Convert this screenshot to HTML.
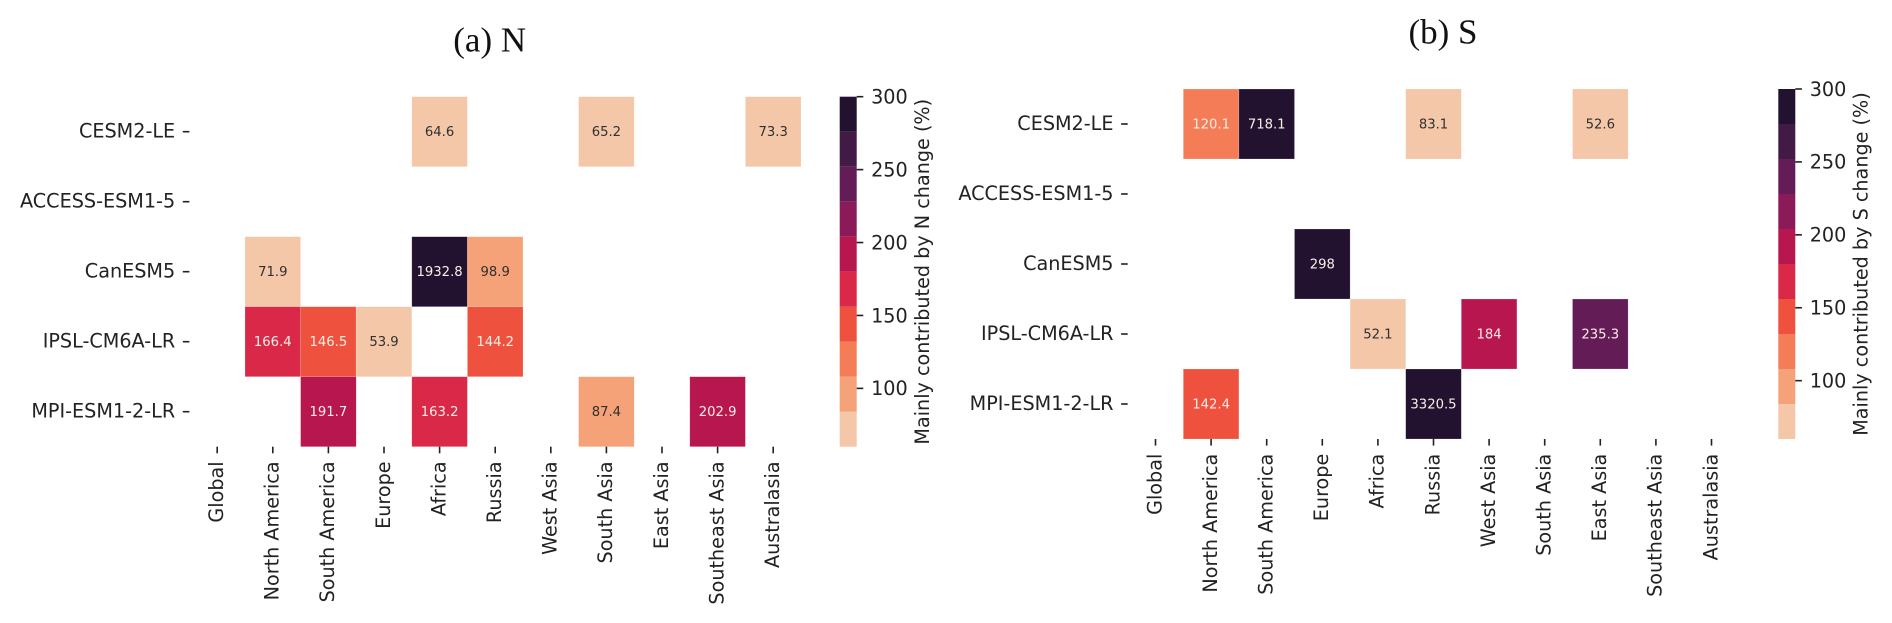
<!DOCTYPE html>
<html lang="en">
<head>
<meta charset="utf-8">
<title>Mainly contributed by N and S change heatmaps</title>
<style>
  html, body { margin: 0; padding: 0; background: #fff; width: 1892px; height: 623px; overflow: hidden; }
  svg { display: block; filter: blur(0.35px); }
  text { font-family: "DejaVu Sans", "Liberation Sans", sans-serif; fill: #222; }
  .panel-title { font-family: "Liberation Serif", serif; font-size: 35px; fill: #111; text-anchor: middle; }
  .tick-label { font-size: 19.2px; }
  .cell-label { font-size: 13.2px; text-anchor: middle; }
  .tick { stroke: #222; stroke-width: 1.6; }
</style>
</head>
<body>
<svg id="figure" xmlns="http://www.w3.org/2000/svg" width="1892" height="623" viewBox="0 0 1892 623"></svg>
<script>
const regions = ["Global", "North America", "South America", "Europe", "Africa", "Russia", "West Asia", "South Asia", "East Asia", "Southeast Asia", "Australasia"];
const models = ["CESM2-LE", "ACCESS-ESM1-5", "CanESM5", "IPSL-CM6A-LR", "MPI-ESM1-2-LR"];

const nCesm = [null, null, null, null, 64.6, null, null, 65.2, null, null, 73.3];
const nAccess = [null, null, null, null, null, null, null, null, null, null, null];
const nCan = [null, 71.9, null, null, 1932.8, 98.9, null, null, null, null, null];
const nIpsl = [null, 166.4, 146.5, 53.9, null, 144.2, null, null, null, null, null];
const nMpi = [null, null, 191.7, null, 163.2, null, null, 87.4, null, 202.9, null];

const sCesm = [null, 120.1, 718.1, null, null, 83.1, null, null, 52.6, null, null];
const sAccess = [null, null, null, null, null, null, null, null, null, null, null];
const sCan = [null, null, null, 298, null, null, null, null, null, null, null];
const sIpsl = [null, null, null, null, 52.1, null, 184, null, 235.3, null, null];
const sMpi = [null, 142.4, null, null, null, 3320.5, null, null, null, null, null];

const colorbarTicks = [100, 150, 200, 250, 300];
const bandColors = ["#f5c7a9", "#f6a279", "#f47d57", "#ee523f", "#da2849", "#b7164f", "#8a1a58", "#641c56", "#421a46", "#22112f"];
const colorMin = 60;
const colorMax = 300;

const SVG_NS = "http://www.w3.org/2000/svg";
const figure = document.getElementById("figure");

const cellWidth = 55.6;
const cellHeight = 70;
const barWidth = 17;
const tickLength = 6.6;

function make(parent, tag, attrs, content) {
  const el = document.createElementNS(SVG_NS, tag);
  for (const key in attrs) el.setAttribute(key, attrs[key]);
  if (content !== undefined) el.textContent = content;
  parent.appendChild(el);
  return el;
}

function slug(s) {
  return String(s).toLowerCase().replace(/[^a-z0-9]+/g, "-");
}

function bandIndex(v) {
  const bandSize = (colorMax - colorMin) / bandColors.length;
  const i = Math.floor((v - colorMin) / bandSize);
  return Math.max(0, Math.min(bandColors.length - 1, i));
}

function drawPanel(p) {
  const xScale = i => p.left + i * cellWidth;
  const yScale = j => p.top + j * cellHeight;
  const plotBottom = yScale(models.length);
  const plotHeight = plotBottom - p.top;
  const barScale = v => p.top + (colorMax - v) / (colorMax - colorMin) * plotHeight;

  const group = make(figure, "g", {});
  
  

  const title = make(group, "text", { class: "panel-title", x: p.titleX, y: p.titleY }, p.title);
  
  

  p.rows.forEach((row, j) => {
    row.forEach((v, i) => {
      if (v === null) return;
      const band = bandIndex(v);
      const cell = make(group, "rect", {
        x: xScale(i), y: yScale(j), width: cellWidth, height: cellHeight,
        fill: bandColors[band], stroke: "#ffffff", "stroke-opacity": 0.3, "stroke-width": 0.6
      });
      
      
      const label = make(group, "text", {
        class: "cell-label",
        x: xScale(i + 0.5), y: yScale(j + 0.5) + 4.4,
        style: "fill:" + (band >= 2 ? "#fbeee6" : "#303030")
      }, String(v));
      
      
    });
  });

  models.forEach((m, j) => {
    const cy = yScale(j + 0.5);
    const tick = make(group, "line", { class: "tick", x1: p.left - tickLength, x2: p.left, y1: cy, y2: cy });
    
    
    const label = make(group, "text", { class: "tick-label", x: p.left - 14.2, y: cy + 5.8, "text-anchor": "end" }, m);
    
    
  });

  regions.forEach((r, i) => {
    const cx = xScale(i + 0.5);
    const tick = make(group, "line", { class: "tick", x1: cx, x2: cx, y1: plotBottom, y2: plotBottom + tickLength });
    
    
    const ly = plotBottom + 14.7;
    const lx = cx + 5.8;
    const label = make(group, "text", {
      class: "tick-label", x: lx, y: ly, "text-anchor": "end",
      transform: "rotate(-90 " + lx + " " + ly + ")"
    }, r);
    
    
  });

  bandColors.forEach((c, k) => {
    const bandSize = (colorMax - colorMin) / bandColors.length;
    const yTop = barScale(colorMin + (k + 1) * bandSize);
    const yBot = barScale(colorMin + k * bandSize);
    const band = make(group, "rect", { x: p.barX, y: yTop, width: barWidth, height: yBot - yTop, fill: c });
    
    
  });

  colorbarTicks.forEach(v => {
    const y = barScale(v);
    const tick = make(group, "line", { class: "tick", x1: p.barX + barWidth, x2: p.barX + barWidth + tickLength, y1: y, y2: y });
    
    
    const label = make(group, "text", { class: "tick-label", x: p.barX + barWidth + 14.4, y: y + 6.8 }, String(v));
    
    
  });

  const bx = p.barX + 89.4;
  const by = p.top + plotHeight / 2;
  const barTitle = make(group, "text", {
    class: "tick-label", x: bx, y: by, "text-anchor": "middle",
    transform: "rotate(-90 " + bx + " " + by + ")"
  }, p.barTitle);
  
  
}

drawPanel({
  id: "n", title: "(a) N", titleX: 489.7, titleY: 51.7,
  left: 189.4, top: 96.7, barX: 839.7,
  barTitle: "Mainly contributed by N change (%)",
  rows: [nCesm, nAccess, nCan, nIpsl, nMpi]
});
drawPanel({
  id: "s", title: "(b) S", titleX: 1443, titleY: 43.3,
  left: 1127.7, top: 89, barX: 1778.3,
  barTitle: "Mainly contributed by S change (%)",
  rows: [sCesm, sAccess, sCan, sIpsl, sMpi]
});
</script>
</body>
</html>
